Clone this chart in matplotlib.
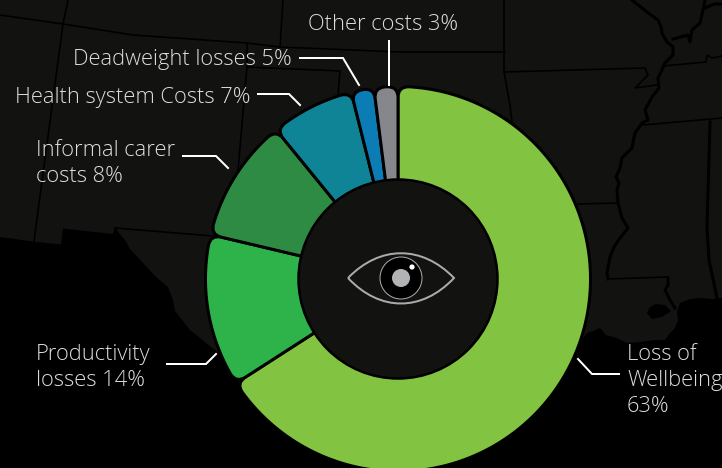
import numpy as np
import matplotlib
matplotlib.use("Agg")
import matplotlib.pyplot as plt
from matplotlib.patches import Circle, PathPatch, Polygon
from matplotlib.path import Path

# ---- data ----
categories = ["Loss of Wellbeing", "Productivity losses", "Informal carer costs",
              "Health system Costs", "Deadweight losses", "Other costs"]
drawn_shares = [65.9, 12.8, 10.4, 7.0, 1.9, 2.0]   # angular share actually drawn, %
slice_colors = ["#82c341", "#2db34a", "#2e8b44", "#0f8496", "#0b7db4", "#85878c"]
label_texts = [
    (627, [360, 386, 412], ["Loss of", "Wellbeing", "63%"]),
    (36, [360, 386], ["Productivity", "losses 14%"]),
    (36, [156, 182], ["Informal carer", "costs 8%"]),
    (15, [103], ["Health system Costs 7%"]),
    (73, [65], ["Deadweight losses 5%"]),
    (308, [30], ["Other costs 3%"]),
]
leaders = [
    [(578, 359), (592, 374), (619, 374)],
    [(167, 364), (206, 364), (216, 354)],
    [(183, 156), (216, 156), (228, 168)],
    [(258, 94), (289, 94), (300, 105)],
    [(300, 58), (343, 58), (359, 85)],
    [(389, 41), (389, 85)],
]

# ---- background map outlines (pixel space) ----
LAND = "#121211"
coast = [(0, 237), (33, 241.5), (61, 244.5), (63, 228.5), (113, 234), (115, 227), (119, 233),
         (125, 240), (130, 249), (145, 265), (155, 276), (168, 287), (173, 300), (175, 311),
         (190, 330), (205, 342), (216, 351), (300, 420), (500, 420), (578, 345), (587, 333),
         (593, 331), (600, 328), (606, 335), (617, 338), (627, 343), (640, 342), (655, 340),
         (665, 340), (670, 333), (675, 328), (678, 320), (677, 312), (680, 303),
         (690, 299), (700, 298), (712, 299), (722, 298), (722, 0), (0, 0)]
lake = [(647, 313), (650, 307), (656, 304), (665, 305), (671, 311), (662, 317), (652, 319)]
thin_borders = [
    [(0, 15), (63, 24), (133, 35), (247, 43), (280, 47), (400, 52), (505, 52)],
    [(68, 0), (63, 24), (34, 241)],
    [(283, 0), (280, 47)],
    [(247, 43), (247, 67), (238, 170)],
    [(247, 67), (340, 71), (338, 95)],
    [(115, 228), (213, 236)],
    [(504, 0), (504, 72), (510, 105), (512, 122)],
    [(504, 72), (645, 68), (648, 75), (635, 88), (657, 85)],
    [(578, 204), (618, 203)],
    [(608, 279), (668, 277)],
    [(643, 125), (722, 118)],
    [(663, 66), (706, 62), (707, 55), (712, 58), (722, 56)],
]
thick_borders = [
    [(710, 122), (707, 227), (709, 260), (717, 298)],
    [(632, 0), (647, 12), (658, 20), (661, 27), (662, 33), (664, 37), (667, 42), (673, 47),
     (673, 55), (665, 63), (661, 72), (658, 78), (659, 88), (652, 97), (645, 110), (648, 120),
     (642, 123), (635, 133), (632, 148), (622, 158), (620, 168), (616, 177), (619, 183),
     (617, 190), (618, 203), (622, 218), (628, 228), (620, 238), (614, 247), (610, 257),
     (607, 273), (608, 279)],
    [(668, 278), (668, 285), (665, 290), (670, 300), (675, 308)],
    [(673, 39), (688, 35), (690, 42), (692, 30), (700, 23), (703, 10), (705, 0)],
    [(705, 8), (714, 4), (722, 4)],
]

CX, CY = 398, 279          # donut centre in pixels
R_OUT, R_IN = 192.5, 99.5
PX = 0.72                  # points per pixel at dpi 100

plt.rcParams["font.family"] = ["Open Sans", "DejaVu Sans"]
fig = plt.figure(figsize=(7.22, 4.68), dpi=100, facecolor="black")
ax = fig.add_axes([0, 0, 1, 1])
ax.set_xlim(0, 722)
ax.set_ylim(468, 0)
ax.set_aspect("equal")
ax.axis("off")


def pt(deg, r):
    a = np.radians(deg)
    return (CX + r * np.sin(a), CY - r * np.cos(a))


def rounded_wedge(a0, a1, r_out=R_OUT, r_in=70, corner=11):
    width = np.radians(a1 - a0) * r_out
    corner = min(corner, width * 0.45)
    da = np.degrees(corner / r_out)
    arc = np.linspace(a0 + da, a1 - da, max(int(a1 - a0), 3))
    verts = [pt(a0, r_in), pt(a0, r_out - corner), pt(a0, r_out), pt(arc[0], r_out)]
    codes = [Path.MOVETO, Path.LINETO, Path.CURVE3, Path.CURVE3]
    for a in arc[1:]:
        verts.append(pt(a, r_out))
        codes.append(Path.LINETO)
    verts += [pt(a1, r_out), pt(a1, r_out - corner), pt(a1, r_in), pt(a1, r_in)]
    codes += [Path.CURVE3, Path.CURVE3, Path.LINETO, Path.CLOSEPOLY]
    return Path(verts, codes)


# map
ax.add_patch(Polygon(coast, closed=True, fc=LAND, ec="none", zorder=1))
ax.add_patch(Polygon(lake, closed=True, fc="black", ec="none", zorder=2))
for line in thin_borders:
    xs, ys = zip(*line)
    ax.plot(xs, ys, color="black", lw=1.6 * PX, zorder=2, solid_joinstyle="miter")
for line in thick_borders:
    xs, ys = zip(*line)
    ax.plot(xs, ys, color="black", lw=3 * PX, zorder=2)

# donut
edges = np.concatenate([[0], np.cumsum(drawn_shares)]) * 3.6
for i, name in enumerate(categories):
    ax.add_patch(PathPatch(rounded_wedge(edges[i], edges[i + 1]), fc=slice_colors[i],
                           ec="black", lw=3 * PX, zorder=3, joinstyle="round", label=name))
ax.add_patch(Circle((CX, CY), R_IN, fc=LAND, ec="black", lw=2.5 * PX, zorder=4))

# eye
eye = Path([(348, 278), (380, 245), (422, 245), (454, 278), (422, 312), (380, 312), (348, 278)],
           [Path.MOVETO, Path.CURVE4, Path.CURVE4, Path.CURVE4, Path.CURVE4, Path.CURVE4, Path.CURVE4])
ax.add_patch(PathPatch(eye, fc="none", ec="#a9abad", lw=2 * PX, zorder=5, joinstyle="miter"))
ax.add_patch(Circle((401, 278), 21, fc="black", ec="#a9abad", lw=1 * PX, zorder=5))
ax.add_patch(Circle((401, 278), 9, fc="#b1b3b5", ec="none", zorder=6))
ax.add_patch(Circle((412, 267), 2.6, fc="white", ec="none", zorder=6))

# leaders
for line in leaders:
    xs, ys = zip(*line)
    ax.plot(xs, ys, color="white", lw=2 * PX, zorder=6, solid_joinstyle="miter")

# labels
for x, ys, lines in label_texts:
    for y, s in zip(ys, lines):
        ax.text(x, y, s, color="#dedede", fontsize=15.75, fontweight="light",
                ha="left", va="baseline", zorder=7, clip_on=True)

fig.savefig("out.png", dpi=100, facecolor="black")
